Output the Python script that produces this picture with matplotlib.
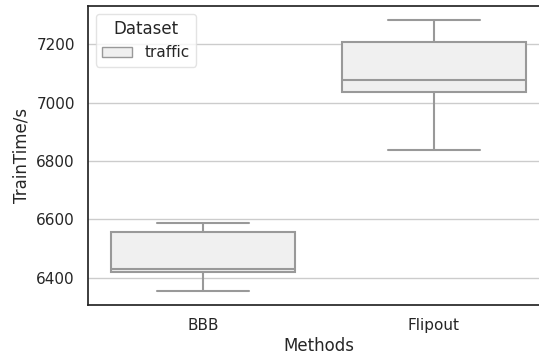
import matplotlib
matplotlib.use("Agg")
import matplotlib.pyplot as plt
import seaborn as sns
import pandas as pd

# values (min, q1, median, q3, max per method)
bbb_times = [6353, 6419, 6430, 6558, 6586]
flipout_times = [6838, 7037, 7077, 7208, 7285]
method_names = ["BBB", "Flipout"]
dataset_name = "traffic"

df = pd.DataFrame({
    "Methods": [method_names[0]] * len(bbb_times) + [method_names[1]] * len(flipout_times),
    "TrainTime/s": bbb_times + flipout_times,
})
df["Dataset"] = dataset_name

sns.set_theme(style="whitegrid")
plt.rcParams["font.family"] = ["DejaVu Sans"]

fig = plt.figure(figsize=(5.39, 3.58), dpi=100)
# right edge of the axes sits just past the image edge, like the reference crop
ax = fig.add_axes([88 / 539, 1 - 305 / 358, (549 - 88) / 539, (305 - 6) / 358])

sns.boxplot(data=df, x="Methods", y="TrainTime/s", hue="Dataset",
            palette=["#f0f0f0"], linecolor="#999999", linewidth=1.5,
            width=0.8, ax=ax)

ax.set_xlim(-0.5, 1.5)
ax.grid(axis="y", color="#cccccc", linewidth=1)
ax.grid(axis="x", visible=False)
for s in ax.spines.values():
    s.set_color("#262626")
    s.set_linewidth(1.25)

ax.tick_params(axis="both", labelsize=11, colors="#262626", length=0, pad=9.5)
ax.set_xlabel("Methods", fontsize=12, color="#262626", labelpad=3)
ax.set_ylabel("TrainTime/s", fontsize=12, color="#262626", labelpad=4)

leg = ax.legend(title="Dataset", loc="upper left", fontsize=11, title_fontsize=12)
leg.get_frame().set_edgecolor("#dddddd")
for h in leg.legend_handles:
    h.set_linewidth(1)

fig.savefig("out.png", dpi=100)
